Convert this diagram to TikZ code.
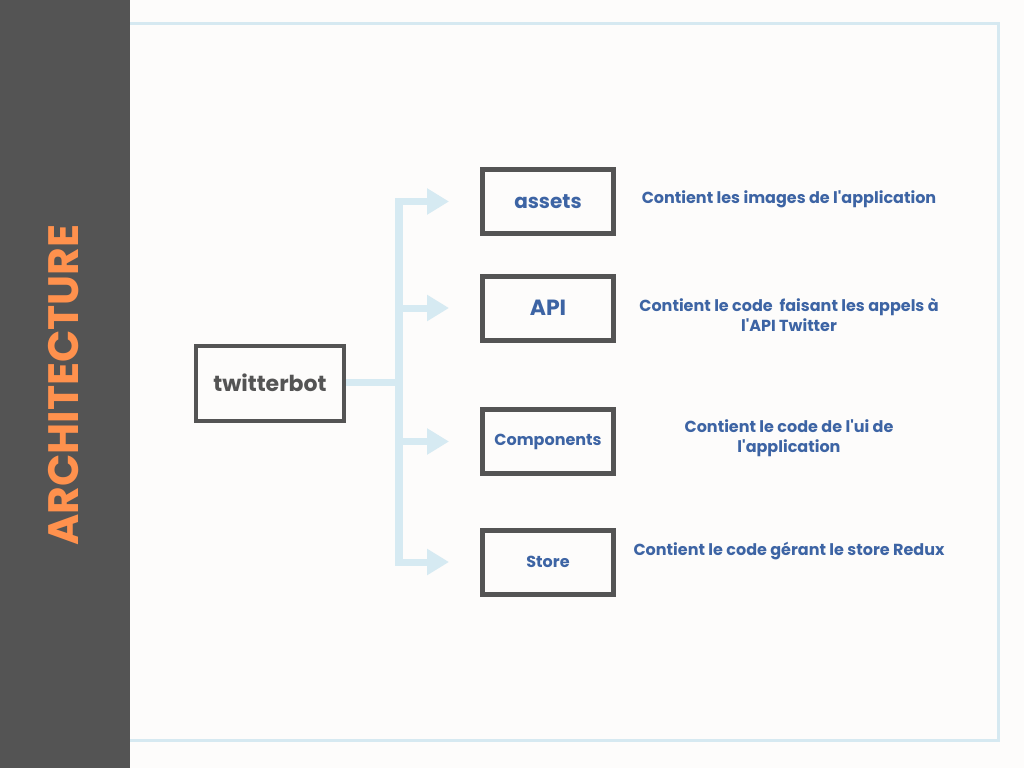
\documentclass[tikz,border=0pt]{standalone}
\usepackage{fontspec}
\setmainfont{Poppins}
\usetikzlibrary{arrows.meta}
\definecolor{bg}{HTML}{FDFCFB}
\definecolor{bargray}{HTML}{545454}
\definecolor{titleorange}{HTML}{FF914D}
\definecolor{framblue}{HTML}{D6E9F1}
\definecolor{linkblue}{HTML}{D6EAF2}
\definecolor{textblue}{HTML}{3D64A4}
\newcommand{\apos}{\textquotesingle}
\tikzset{
  rootbox/.style={draw=bargray, line width=4pt, minimum width=148pt, minimum height=75pt, inner sep=0pt, text=bargray, font=\fontsize{22}{24}\selectfont\bfseries},
  folderbox/.style={draw=bargray, line width=5pt, minimum width=131pt, minimum height=64pt, inner sep=0pt, text=textblue},
  desc/.style={text=textblue, align=center, inner sep=0pt, font=\fontsize{16}{20}\selectfont\bfseries},
  link/.style={draw=linkblue, line width=7pt},
  branch/.style={draw=linkblue, line width=7pt, -{Triangle[length=22pt,width=25pt]}, shorten >=31pt},
}
\begin{document}
\begin{tikzpicture}[x=1pt,y=-1pt]
\fill[bg] (0,0) rectangle (1024,768);
\useasboundingbox (0,0) rectangle (1024,768);
\draw[framblue, line width=3pt] (127,24) rectangle (998.5,740);
\fill[bargray] (0,0) rectangle (130,768);
\node[rotate=90, text=titleorange, inner sep=0pt, font=\fontsize{42.5}{44}\selectfont\bfseries] (title) at (64,385) {ARCHITECTURE};

\node[rootbox] (root) at (270,383) {twitterbot};
\node[folderbox, font=\fontsize{20}{24}\selectfont\bfseries] (assets) at (548,201.5) {assets};
\node[folderbox, font=\fontsize{22}{24}\selectfont\bfseries] (api) at (548,308) {API};
\node[folderbox, font=\fontsize{16}{20}\selectfont\bfseries] (comp) at (548,441.5) {Components};
\node[folderbox, font=\fontsize{16}{20}\selectfont\bfseries] (store) at (548,562) {Store};

\node[desc] (d1) at (789,199) {Contient les images de l\apos application};
\node[desc] (d2) at (789,315) {Contient le code\ \ faisant les appels à\\l\apos API Twitter};
\node[desc] (d3) at (789,438) {Contient le code de l\apos ui de\\l\apos application};
\node[desc] (d4) at (789,551) {Contient le code gérant le store Redux};

\coordinate (trunk) at (399,382);
\draw[link] (root.east |- trunk) -- (trunk);
\draw[link, line width=8pt, line cap=rect] (trunk |- assets.west) -- (trunk |- store.west);
\draw[branch] (trunk |- assets.west) -- (assets.west);
\draw[branch] (trunk |- api.west) -- (api.west);
\draw[branch] (trunk |- comp.west) -- (comp.west);
\draw[branch] (trunk |- store.west) -- (store.west);
\end{tikzpicture}
\end{document}
